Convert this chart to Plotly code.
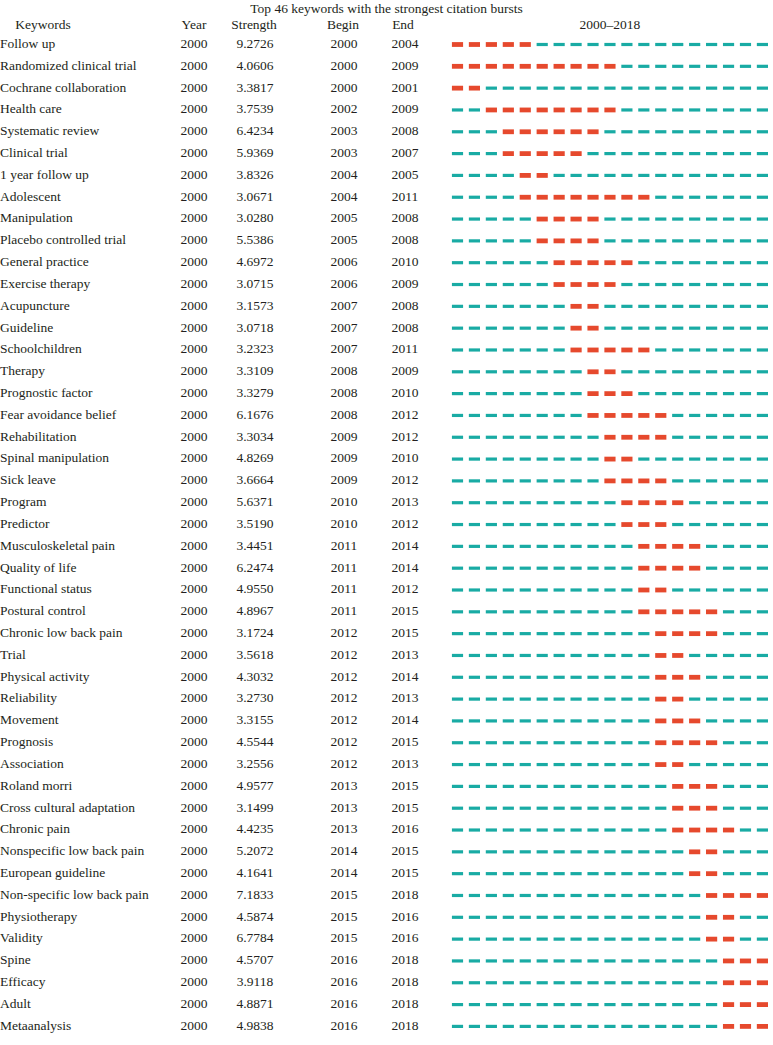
import plotly.graph_objects as go

keywords = ["Follow up", "Randomized clinical trial", "Cochrane collaboration", "Health care",
            "Systematic review", "Clinical trial", "1 year follow up", "Adolescent", "Manipulation",
            "Placebo controlled trial", "General practice", "Exercise therapy", "Acupuncture",
            "Guideline", "Schoolchildren", "Therapy", "Prognostic factor", "Fear avoidance belief",
            "Rehabilitation", "Spinal manipulation", "Sick leave", "Program", "Predictor",
            "Musculoskeletal pain", "Quality of life", "Functional status", "Postural control",
            "Chronic low back pain", "Trial", "Physical activity", "Reliability", "Movement",
            "Prognosis", "Association", "Roland morri", "Cross cultural adaptation", "Chronic pain",
            "Nonspecific low back pain", "European guideline", "Non-specific low back pain",
            "Physiotherapy", "Validity", "Spine", "Efficacy", "Adult", "Metaanalysis"]
year = [2000] * 46
strength = ["9.2726", "4.0606", "3.3817", "3.7539", "6.4234", "5.9369", "3.8326", "3.0671",
            "3.0280", "5.5386", "4.6972", "3.0715", "3.1573", "3.0718", "3.2323", "3.3109",
            "3.3279", "6.1676", "3.3034", "4.8269", "3.6664", "5.6371", "3.5190", "3.4451",
            "6.2474", "4.9550", "4.8967", "3.1724", "3.5618", "4.3032", "3.2730", "3.3155",
            "4.5544", "3.2556", "4.9577", "3.1499", "4.4235", "5.2072", "4.1641", "7.1833",
            "4.5874", "6.7784", "4.5707", "3.9118", "4.8871", "4.9838"]
begin = [2000, 2000, 2000, 2002, 2003, 2003, 2004, 2004, 2005, 2005, 2006, 2006, 2007, 2007,
         2007, 2008, 2008, 2008, 2009, 2009, 2009, 2010, 2010, 2011, 2011, 2011, 2011, 2012,
         2012, 2012, 2012, 2012, 2012, 2012, 2013, 2013, 2013, 2014, 2014, 2015, 2015, 2015,
         2016, 2016, 2016, 2016]
end = [2004, 2009, 2001, 2009, 2008, 2007, 2005, 2011, 2008, 2008, 2010, 2009, 2008, 2008,
       2011, 2009, 2010, 2012, 2012, 2010, 2012, 2013, 2012, 2014, 2014, 2012, 2015, 2015,
       2013, 2014, 2013, 2014, 2015, 2013, 2015, 2015, 2016, 2015, 2015, 2018, 2016, 2016,
       2018, 2018, 2018, 2018]
timeline_years = list(range(2000, 2019))
headers = ["Keywords", "Year", "Strength", "Begin", "End", "2000\u20132018"]
title = "Top 46 keywords with the strongest citation bursts"

# ---- layout constants ----
W, H = 773, 1045
FONT = "Liberation Serif"
TXT = "#231f20"
RED = "#e6492d"
TEAL = "#19aba4"
row0_px, row_step = 44.5, 21.82
col_x = {"kw": 0, "year": 194, "strength": 255, "begin": 344, "end": 405}
hdr_x = {"Keywords": 43, "Year": 194, "Strength": 254, "Begin": 343, "End": 403}
tl_first_px, tl_pitch = 457.5, 16.94   # pixel centre of first year slot, pitch per year
half_dash = 0.33

n = len(keywords)
rows = list(range(n))
y_top = -row0_px / row_step
y_bot = (H - row0_px) / row_step
hdr_y = (25.5 - row0_px) / row_step

fig = go.Figure()

def txt(xs, ys, texts, pos, size=13.5, xaxis="x"):
    fig.add_trace(go.Scatter(x=xs, y=ys, text=texts, mode="text", textposition=pos, xaxis=xaxis,
                             textfont=dict(family=FONT, size=size, color=TXT),
                             hoverinfo="skip", showlegend=False, cliponaxis=False))

txt([col_x["kw"]] * n, rows, keywords, "middle right")
txt([col_x["year"]] * n, rows, [str(v) for v in year], "middle center")
txt([col_x["strength"]] * n, rows, strength, "middle center")
txt([col_x["begin"]] * n, rows, [str(v) for v in begin], "middle center")
txt([col_x["end"]] * n, rows, [str(v) for v in end], "middle center")
txt([hdr_x[h] for h in headers[:5]], [hdr_y] * 5, headers[:5], "middle center")
txt([(timeline_years[0] + timeline_years[-1]) / 2], [hdr_y], [headers[5]], "middle center", xaxis="x2")

# ---- burst timeline dashes ----
tx, ty, rx, ry = [], [], [], []
for i in rows:
    for yr in timeline_years:
        seg_x = [yr - half_dash, yr + half_dash, None]
        seg_y = [i, i, None]
        if begin[i] <= yr <= end[i]:
            rx += seg_x; ry += seg_y
        else:
            tx += seg_x; ty += seg_y
fig.add_trace(go.Scatter(x=tx, y=ty, mode="lines", xaxis="x2",
                         line=dict(color=TEAL, width=3.2), hoverinfo="skip", showlegend=False))
fig.add_trace(go.Scatter(x=rx, y=ry, mode="lines", xaxis="x2",
                         line=dict(color=RED, width=4.8), hoverinfo="skip", showlegend=False))

x2_lo = 2000 - tl_first_px / tl_pitch
x2_hi = 2000 + (W - tl_first_px) / tl_pitch

fig.update_layout(
    width=W, height=H,
    margin=dict(l=0, r=0, t=0, b=0),
    paper_bgcolor="white", plot_bgcolor="white",
    title=dict(text=title, x=0.5, xanchor="center", y=1 - 8 / H, yanchor="middle",
               font=dict(family=FONT, size=13.5, color=TXT)),
    xaxis=dict(range=[0, W], visible=False, fixedrange=True),
    xaxis2=dict(range=[x2_lo, x2_hi], overlaying="x", visible=False, fixedrange=True),
    yaxis=dict(range=[y_bot, y_top], visible=False, fixedrange=True),
    showlegend=False,
)

fig.write_html("out.html", config={"displayModeBar": False},
               post_script="document.body.style.margin='0';")
